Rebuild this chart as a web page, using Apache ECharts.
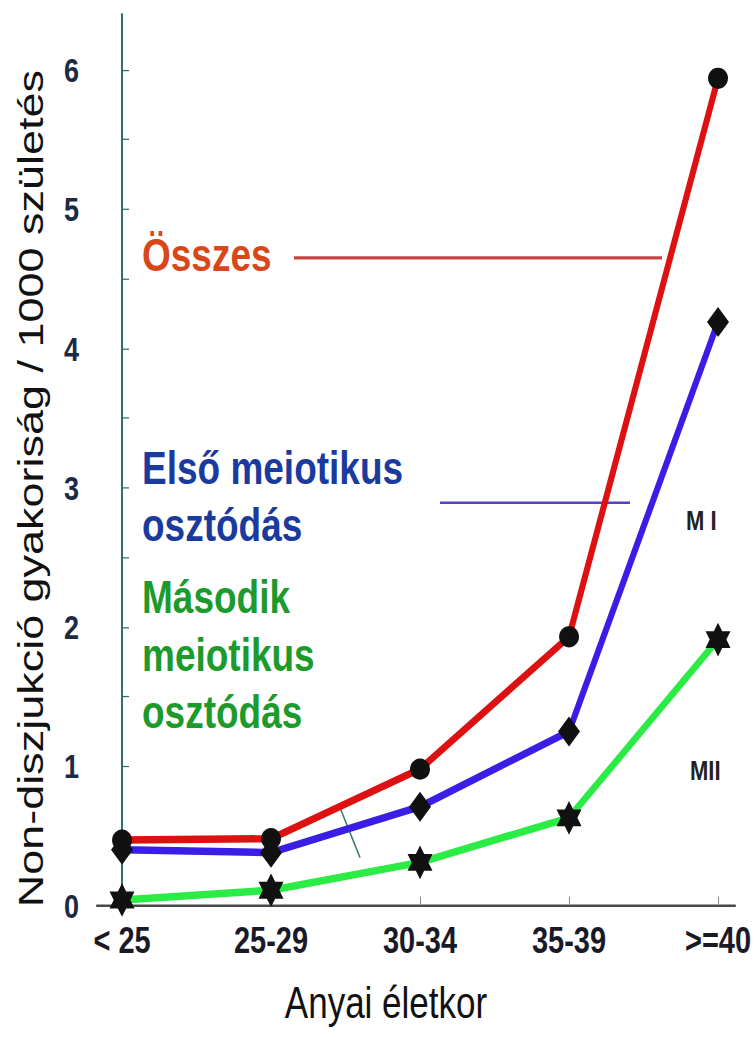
<!DOCTYPE html>
<html>
<head>
<meta charset="utf-8">
<title>Non-diszjunkció</title>
<script src="https://cdn.jsdelivr.net/npm/echarts@6/dist/echarts.min.js"></script>
<style>
  html, body { margin: 0; padding: 0; background: #fff; }
  body { width: 756px; height: 1037px; }
  /* the original picture is stretched vertically, so the chart is drawn shorter and scaled */
  #chart { width: 756px; height: 830px; transform: scaleY(1.2494); transform-origin: 0 0; }
</style>
</head>
<body>
<div id="chart"></div>
<script>
// adatok
const ageGroups = ['< 25', '25-29', '30-34', '35-39', '>=40'];
const totalRate = [0.47, 0.48, 0.98, 1.93, 5.94];     // Összes
const meiosis1Rate = [0.40, 0.38, 0.71, 1.25, 4.19];  // Első meiotikus osztódás (M I)
const meiosis2Rate = [0.04, 0.11, 0.31, 0.63, 1.91];  // Második meiotikus osztódás (MII)
const yLabelValues = [0, 1, 2, 3, 4, 5, 6];
const yTickValues = [0, 0.5, 1, 1.5, 2, 2.5, 3, 3.5, 4, 4.5, 5, 5.5, 6];

const FONT = "'Liberation Sans', Arial, sans-serif";
const starPath = 'path://M0,-10L2.89,-5L8.66,-5L5.77,0L8.66,5L2.89,5L0,10L-2.89,5L-8.66,5L-5.77,0L-8.66,-5L-2.89,-5Z';

function pairs(values) {
    return values.map(function (v, i) { return [i, v]; });
}

let myChart = echarts.init(document.getElementById('chart'), null, { renderer: 'svg' });

myChart.setOption({
    animation: false,
    backgroundColor: '#fff',
    grid: {
        left: 97,
        right: 21,
        top: 11.4,
        bottom: 105.2
    },
    xAxis: {
        type: 'value',
        min: -0.168,
        max: 4.114,
        name: 'Anyai életkor',
        nameLocation: 'middle',
        nameGap: 60,
        nameTextStyle: {
            fontFamily: FONT,
            fontSize: 35,
            color: '#111',
            padding: [0, 60, 0, 0]
        },
        splitLine: { show: false },
        axisLine: {
            onZero: false,
            lineStyle: { color: '#4a4a4a', width: 2 }
        },
        axisTick: {
            inside: true,
            length: 7,
            customValues: [0, 1, 2, 3, 4],
            lineStyle: { color: '#888', width: 1 }
        },
        axisLabel: {
            margin: 13,
            customValues: [0, 1, 2, 3, 4],
            formatter: function (v) { return ageGroups[Math.round(v)]; },
            fontFamily: FONT,
            fontWeight: 'bold',
            fontSize: 29,
            color: '#1a1a26'
        }
    },
    yAxis: {
        type: 'value',
        min: 0,
        max: 6.4,
        name: 'Non-diszjukció gyakoriság / 1000 születés',
        nameLocation: 'middle',
        nameGap: 48,
        nameTextStyle: {
            fontFamily: FONT,
            fontSize: 36,
            color: '#111',
            // a cím lejjebb ül, mint a rács közepe
            padding: [0, 46, 0, 0]
        },
        splitLine: { show: false },
        axisLine: {
            show: true,
            lineStyle: { color: '#2e7070', width: 2 }
        },
        axisTick: {
            show: true,
            inside: true,
            length: 7,
            customValues: yTickValues,
            lineStyle: { color: '#2e7070', width: 1 }
        },
        axisLabel: {
            margin: 18,
            customValues: yLabelValues,
            fontFamily: FONT,
            fontWeight: 'bold',
            fontSize: 27,
            color: '#1c2a44'
        }
    },
    series: [
        {
            name: 'Második meiotikus osztódás',
            type: 'line',
            data: pairs(meiosis2Rate),
            lineStyle: { color: '#2aec44', width: 6 },
            itemStyle: { color: '#111' },
            symbol: starPath,
            symbolSize: [25, 27],
            z: 2
        },
        {
            name: 'Első meiotikus osztódás',
            type: 'line',
            data: pairs(meiosis1Rate),
            lineStyle: { color: '#3a1ee6', width: 6 },
            itemStyle: { color: '#111' },
            symbol: 'diamond',
            symbolSize: [22, 24],
            z: 3
        },
        {
            name: 'Összes',
            type: 'line',
            data: pairs(totalRate),
            lineStyle: { color: '#dd1111', width: 6 },
            itemStyle: { color: '#111' },
            symbol: 'circle',
            symbolSize: [20, 17],
            z: 4
        }
    ],
    graphic: [
        // Összes
        {
            type: 'text', x: 142, y: 204,
            style: { text: 'Összes', fill: '#d8461a', font: 'bold 37px ' + FONT, align: 'left', verticalAlign: 'middle' }
        },
        {
            type: 'line', shape: { x1: 294, y1: 206.4, x2: 662, y2: 206.4 },
            style: { stroke: '#c84444', lineWidth: 2.5 }
        },
        // Első meiotikus osztódás
        {
            type: 'text', x: 142, y: 397.2,
            style: { text: 'Első meiotikus\nosztódás', fill: '#1a3a9e', font: 'bold 37px ' + FONT, lineHeight: 45.6, align: 'left', verticalAlign: 'middle' }
        },
        {
            type: 'line', shape: { x1: 440, y1: 402.4, x2: 630, y2: 402.4 },
            style: { stroke: '#5a3ec8', lineWidth: 2 }
        },
        // Második meiotikus osztódás
        {
            type: 'text', x: 142, y: 524,
            style: { text: 'Második\nmeiotikus\nosztódás', fill: '#1c9a2c', font: 'bold 37px ' + FONT, lineHeight: 46, align: 'left', verticalAlign: 'middle' }
        },
        {
            type: 'line', shape: { x1: 340, y1: 646.4, x2: 360, y2: 686.4 },
            style: { stroke: '#3d7a60', lineWidth: 1.5 }
        },
        // M I / MII
        {
            type: 'text', x: 686, y: 416,
            style: { text: 'M I', fill: '#222', font: 'bold 22px ' + FONT, align: 'left', verticalAlign: 'middle' }
        },
        {
            type: 'text', x: 690, y: 616,
            style: { text: 'MII', fill: '#222', font: 'bold 22px ' + FONT, align: 'left', verticalAlign: 'middle' }
        }
    ]
});
</script>
</body>
</html>
